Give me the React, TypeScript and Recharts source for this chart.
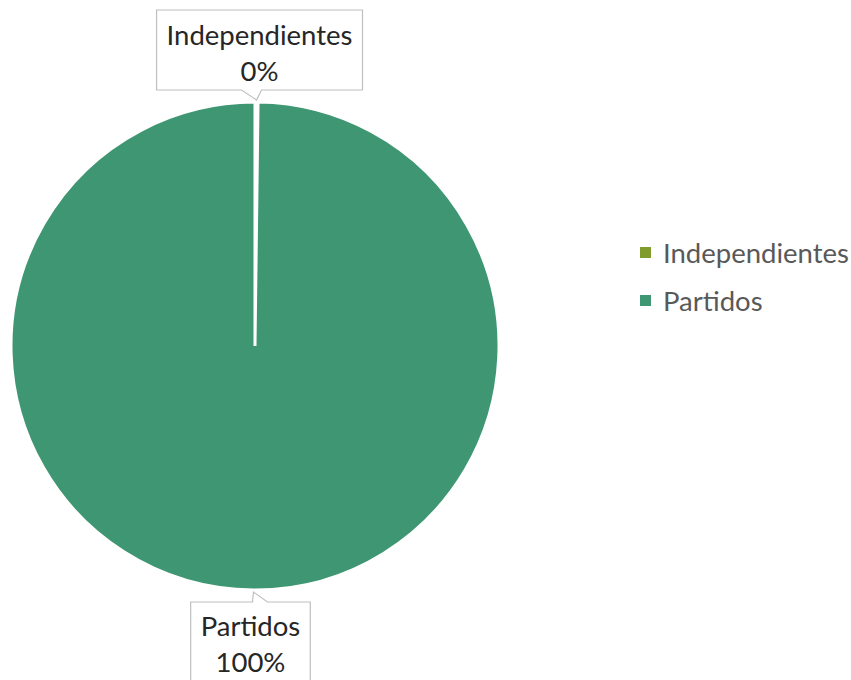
import * as React from "react"
import { PieChart, Pie, Cell, Legend } from "recharts"

// share of seats by type of candidacy
const categories = ["Independientes", "Partidos"]
const shares = [0.2, 99.8]
const colors = ["#7F9C2C", "#3E9673"]

const data = categories.map((name, i) => ({ name, value: shares[i] }))

const FONT = "Lato, 'Open Sans', sans-serif"
const SIZE = 27.5
const RADIAN = Math.PI / 180

function measure(text: string, size: number) {
  const c = document.createElement("canvas").getContext("2d")
  if (!c) return text.length * size * 0.5
  c.font = `${size}px ${FONT}`
  return c.measureText(text).width
}

const CalloutLabel = (props: any) => {
  const { cx, cy, midAngle, outerRadius, percent, name } = props
  const ex = cx + outerRadius * Math.cos(-midAngle * RADIAN)
  const ey = cy + outerRadius * Math.sin(-midAngle * RADIAN)
  const pct = `${Math.round(percent * 100)}%`
  const w = Math.max(measure(name, SIZE), measure(pct, SIZE)) + 20
  const h = 80
  const above = Math.sin(midAngle * RADIAN) > 0
  const left = ex - w / 2 + (above ? 3 : -3)
  const top = above ? ey - 12 - h : ey + 12
  const right = left + w
  const bottom = top + h
  let path: string
  if (above) {
    path = `M${left},${top} H${right} V${bottom} H${ex + 5} L${ex},${ey - 2} L${ex - 15},${bottom} H${left} Z`
  } else {
    path = `M${left},${top} H${ex - 1} L${ex},${ey + 2} L${ex + 14},${top} H${right} V${bottom} H${left} Z`
  }
  const mx = left + w / 2
  return (
    <g>
      <path d={path} fill="#fff" stroke="#BFBFBF" strokeWidth={1.2} />
      <text x={mx} y={top + 24} textAnchor="middle" dominantBaseline="central"
        fill="#262626" fontSize={SIZE} fontFamily={FONT}>{name}</text>
      <text x={mx} y={top + 60} textAnchor="middle" dominantBaseline="central"
        fill="#262626" fontSize={SIZE} fontFamily={FONT}>{pct}</text>
    </g>
  )
}

const LegendContent = () => (
  <div style={{ fontFamily: FONT, fontSize: SIZE, color: "#595959" }}>
    {categories.map((c, i) => (
      <div key={c} style={{ display: "flex", alignItems: "center", height: 48 }}>
        <span style={{ display: "inline-block", width: 11, height: 11, background: colors[i], marginRight: 12 }} />
        {c}
      </div>
    ))}
  </div>
)

export default function App() {
  return (
    <div style={{ position: "absolute", left: 0, top: 0, width: 851, height: 680, background: "#fff", overflow: "hidden" }}>
      <PieChart width={851} height={680} margin={{ top: 0, right: 0, bottom: 0, left: 0 }}>
        <Pie
          data={data}
          dataKey="value"
          nameKey="name"
          cx={255}
          cy={346}
          outerRadius={244}
          startAngle={90}
          endAngle={-270}
          stroke="#fff"
          strokeWidth={3}
          label={CalloutLabel}
          labelLine={false}
          isAnimationActive={false}
        >
          {data.map((d, i) => (
            <Cell key={d.name} fill={colors[i]} />
          ))}
        </Pie>
        <Legend
          layout="vertical"
          content={<LegendContent />}
          wrapperStyle={{ left: 640, top: 228, width: 211 }}
        />
      </PieChart>
    </div>
  )
}
